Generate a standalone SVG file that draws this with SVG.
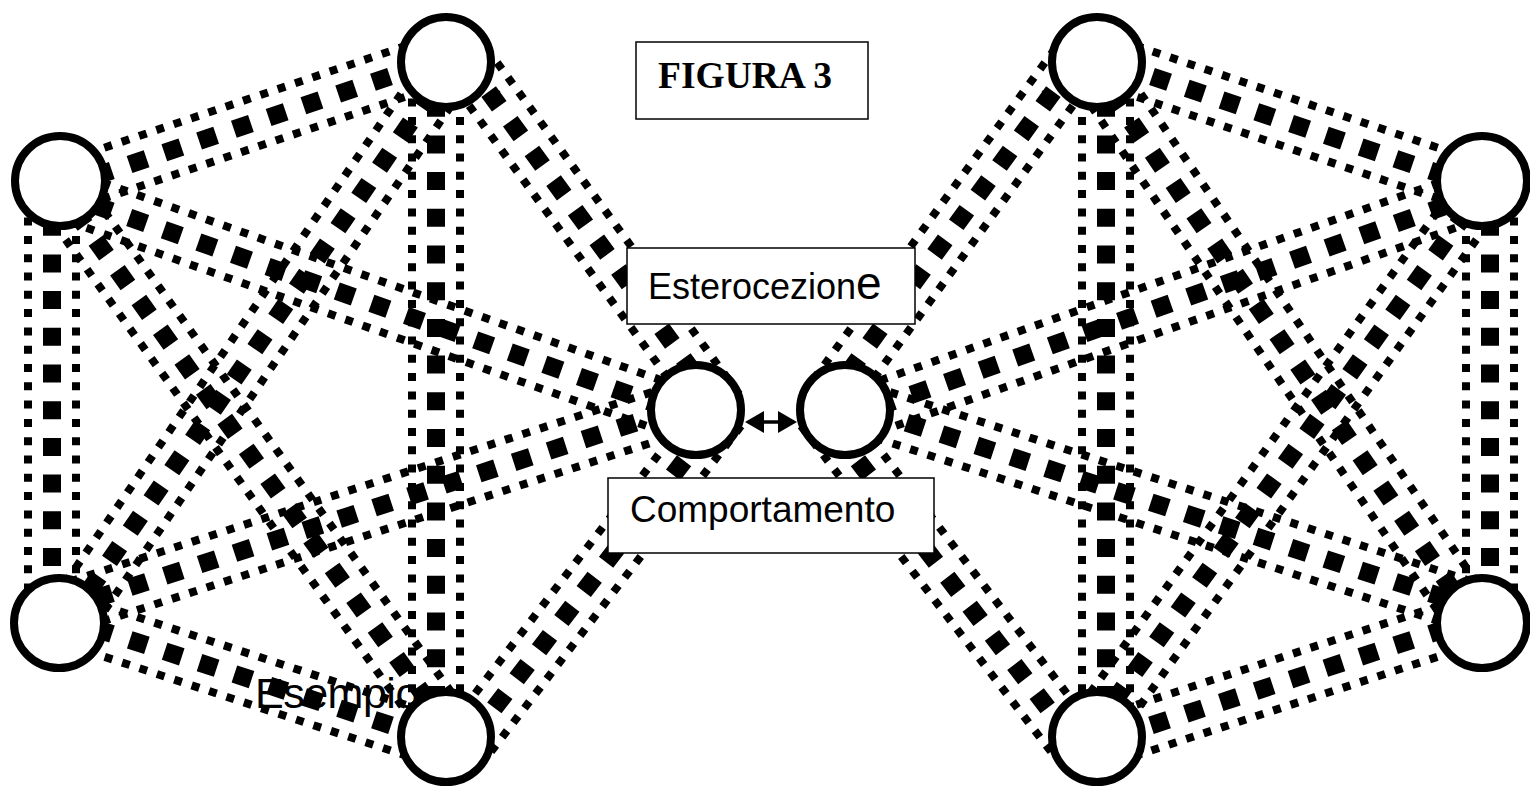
<svg xmlns="http://www.w3.org/2000/svg" width="1530" height="787" viewBox="0 0 1530 787">
<style>
.thick{stroke:#000;stroke-width:18;stroke-dasharray:18 18.7;fill:none}
.thin{stroke:#000;stroke-width:8;stroke-dasharray:8 10.3;fill:none}
.node{fill:#fff;stroke:#000;stroke-width:8}
.box{fill:#fff;stroke:#000;stroke-width:1.5}
.sans{font-family:"Liberation Sans",Arial,sans-serif;fill:#000}
.tick{stroke:#000;stroke-width:1.5}
</style>
<defs>
<clipPath id="esClip"><rect x="240" y="660" width="186" height="70"/></clipPath>
</defs>
<rect width="1530" height="787" fill="#fff"/>
<g id="connectors">
<g transform="translate(60 188) rotate(-18.66)"><line x2="406.4" class="thick"/><line y1="-24" y2="-24" x2="406.4" class="thin"/><line y1="24" y2="24" x2="406.4" class="thin"/></g>
<g transform="translate(60 617) rotate(18.12)"><line x2="405.1" class="thick"/><line y1="-24" y2="-24" x2="405.1" class="thin"/><line y1="24" y2="24" x2="405.1" class="thin"/></g>
<g transform="translate(52 181) rotate(90)"><line x2="442" class="thick"/><line y1="-24" y2="-24" x2="442" class="thin"/><line y1="24" y2="24" x2="442" class="thin"/></g>
<g transform="translate(436 62) rotate(90)"><line x2="675" class="thick"/><line y1="-24" y2="-24" x2="675" class="thin"/><line y1="24" y2="24" x2="675" class="thin"/></g>
<g transform="translate(53 181) rotate(54.2)"><line x2="685.5" class="thick"/><line y1="-24" y2="-24" x2="685.5" class="thin"/><line y1="24" y2="24" x2="685.5" class="thin"/></g>
<g transform="translate(452 62) rotate(124.47)"><line x2="680.4" class="thick"/><line y1="-24" y2="-24" x2="680.4" class="thin"/><line y1="24" y2="24" x2="680.4" class="thin"/></g>
<g transform="translate(60 193) rotate(19.48)"><line x2="674.6" class="thick"/><line y1="-24" y2="-24" x2="674.6" class="thin"/><line y1="24" y2="24" x2="674.6" class="thin"/></g>
<g transform="translate(60 610) rotate(-18.03)"><line x2="668.8" class="thick"/><line y1="-24" y2="-24" x2="668.8" class="thin"/><line y1="24" y2="24" x2="668.8" class="thin"/></g>
<g transform="translate(467 62) rotate(53.88)"><line x2="430.8" class="thick"/><line y1="-24" y2="-24" x2="430.8" class="thin"/><line y1="24" y2="24" x2="430.8" class="thin"/></g>
<g transform="translate(472 737) rotate(-52.49)"><line x2="412.2" class="thick"/><line y1="-24" y2="-24" x2="412.2" class="thin"/><line y1="24" y2="24" x2="412.2" class="thin"/></g>

<g transform="translate(1482 188) rotate(198.66)"><line x2="406.4" class="thick"/><line y1="-24" y2="-24" x2="406.4" class="thin"/><line y1="24" y2="24" x2="406.4" class="thin"/></g>
<g transform="translate(1482 617) rotate(161.88)"><line x2="405.1" class="thick"/><line y1="-24" y2="-24" x2="405.1" class="thin"/><line y1="24" y2="24" x2="405.1" class="thin"/></g>
<g transform="translate(1490 181) rotate(90)"><line x2="442" class="thick"/><line y1="-24" y2="-24" x2="442" class="thin"/><line y1="24" y2="24" x2="442" class="thin"/></g>
<g transform="translate(1106 62) rotate(90)"><line x2="675" class="thick"/><line y1="-24" y2="-24" x2="675" class="thin"/><line y1="24" y2="24" x2="675" class="thin"/></g>
<g transform="translate(1489 181) rotate(125.8)"><line x2="685.5" class="thick"/><line y1="-24" y2="-24" x2="685.5" class="thin"/><line y1="24" y2="24" x2="685.5" class="thin"/></g>
<g transform="translate(1090 62) rotate(55.53)"><line x2="680.4" class="thick"/><line y1="-24" y2="-24" x2="680.4" class="thin"/><line y1="24" y2="24" x2="680.4" class="thin"/></g>
<g transform="translate(1482 193) rotate(160.52)"><line x2="674.6" class="thick"/><line y1="-24" y2="-24" x2="674.6" class="thin"/><line y1="24" y2="24" x2="674.6" class="thin"/></g>
<g transform="translate(1482 610) rotate(198.03)"><line x2="668.8" class="thick"/><line y1="-24" y2="-24" x2="668.8" class="thin"/><line y1="24" y2="24" x2="668.8" class="thin"/></g>
<g transform="translate(1075 62) rotate(126.12)"><line x2="430.8" class="thick"/><line y1="-24" y2="-24" x2="430.8" class="thin"/><line y1="24" y2="24" x2="430.8" class="thin"/></g>
<g transform="translate(1070 737) rotate(232.49)"><line x2="412.2" class="thick"/><line y1="-24" y2="-24" x2="412.2" class="thin"/><line y1="24" y2="24" x2="412.2" class="thin"/></g>

<line class="tick" x1="487" y1="100" x2="500" y2="91"/>
<line class="tick" x1="1042" y1="91" x2="1055" y2="100"/>

<g id="arrow-E-F">
<line x1="758" y1="422" x2="784" y2="422" stroke="#000" stroke-width="3.5"/>
<polygon points="745,422 764,411 764,433" fill="#000"/>
<polygon points="797,422 778,411 778,433" fill="#000"/>
</g>
</g>
<g id="node-A"><circle class="node" cx="60" cy="181" r="45"/></g>
<g id="node-B"><circle class="node" cx="446" cy="62" r="45"/></g>
<g id="node-C"><circle class="node" cx="59" cy="623" r="45"/></g>
<g id="node-D"><circle class="node" cx="446" cy="737" r="45"/></g>
<g id="node-E"><circle class="node" cx="696" cy="410" r="45"/></g>
<g id="node-F"><circle class="node" cx="845" cy="410" r="45"/></g>
<g id="node-G"><circle class="node" cx="1097" cy="62" r="45"/></g>
<g id="node-H"><circle class="node" cx="1482" cy="181" r="45"/></g>
<g id="node-I"><circle class="node" cx="1482" cy="623" r="45"/></g>
<g id="node-J"><circle class="node" cx="1097" cy="737" r="45"/></g>
<g id="label-figura">
<rect class="box" x="636" y="42" width="232" height="77"/>
<text x="658" y="88" font-family="'Liberation Serif','Times New Roman',serif" font-weight="bold" font-size="37.5" fill="#000">FIGURA 3</text>
</g>
<g id="label-esterocezione">
<rect class="box" x="627" y="248" width="288" height="76"/>
<text class="sans" x="648" y="299" font-size="36">Esterocezion<tspan font-size="46">e</tspan></text>
</g>
<g id="label-comportamento">
<rect class="box" x="608" y="478" width="326" height="75"/>
<text class="sans" x="630" y="522" font-size="37">Comportamento</text>
</g>
<g id="label-esempio">
<text class="sans" x="255" y="708" font-size="43" letter-spacing="-0.5" clip-path="url(#esClip)">Esempio</text>
</g>
</svg>
